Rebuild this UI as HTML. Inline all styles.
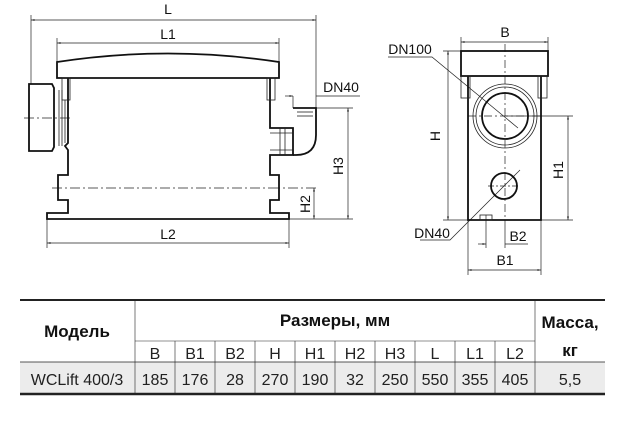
<!DOCTYPE html>
<html><head><meta charset="utf-8"><style>
body{margin:0;background:#fff;}
svg{display:block}
text{font-family:"Liberation Sans",sans-serif;}
</style></head><body>
<svg width="640" height="426" viewBox="0 0 640 426" xmlns="http://www.w3.org/2000/svg">
<defs>
<marker id="a" viewBox="0 0 10 10" refX="10" refY="5" markerWidth="7" markerHeight="5" orient="auto-start-reverse"><path d="M0,2 L10,5 L0,8z" fill="#333"/></marker>
</defs>
<g fill="none" stroke="#222" stroke-width="0.7">
<line x1="31" y1="20" x2="316" y2="20" marker-start="url(#a)" marker-end="url(#a)"/>
<line x1="31" y1="15" x2="31" y2="84"/><line x1="316" y1="15" x2="316" y2="110"/>
<line x1="57" y1="43" x2="279" y2="43" marker-start="url(#a)" marker-end="url(#a)"/>
<line x1="57" y1="38" x2="57" y2="62"/><line x1="279" y1="38" x2="279" y2="62"/>
<line x1="47" y1="243" x2="289" y2="243" marker-start="url(#a)" marker-end="url(#a)"/>
<line x1="47" y1="215" x2="47" y2="248"/><line x1="289" y1="215" x2="289" y2="248"/>
<line x1="285" y1="96" x2="293" y2="96" marker-end="url(#a)"/><line x1="316" y1="96" x2="360" y2="96"/>
<line x1="293" y1="96" x2="293" y2="108"/>
<line x1="316" y1="108" x2="353" y2="108"/>
<line x1="348" y1="108" x2="348" y2="219" marker-start="url(#a)" marker-end="url(#a)"/>
<line x1="289" y1="219" x2="353" y2="219"/>
<line x1="314" y1="188" x2="314" y2="219" marker-start="url(#a)" marker-end="url(#a)"/>
<line x1="270" y1="188" x2="318" y2="188" stroke-dasharray="10,3,2,3"/>
<line x1="52" y1="188" x2="270" y2="188" stroke-dasharray="10,3,2,3"/>
<line x1="24" y1="118" x2="72" y2="118" stroke-dasharray="10,3,2,3"/>
<line x1="461" y1="42" x2="548" y2="42" marker-start="url(#a)" marker-end="url(#a)"/>
<line x1="461" y1="37" x2="461" y2="51"/><line x1="548" y1="37" x2="548" y2="51"/>
<line x1="448" y1="51" x2="448" y2="220" marker-start="url(#a)" marker-end="url(#a)"/>
<line x1="443" y1="51" x2="461" y2="51"/><line x1="443" y1="220" x2="468" y2="220"/>
<line x1="568" y1="116" x2="568" y2="220" marker-start="url(#a)" marker-end="url(#a)"/>
<line x1="505" y1="116" x2="573" y2="116"/><line x1="541" y1="220" x2="573" y2="220"/>
<line x1="468" y1="270" x2="541" y2="270" marker-start="url(#a)" marker-end="url(#a)"/>
<line x1="468" y1="220" x2="468" y2="275"/><line x1="541" y1="220" x2="541" y2="275"/>
<line x1="478" y1="244" x2="486" y2="244" marker-end="url(#a)"/><line x1="505" y1="244" x2="528" y2="244"/>
<line x1="486" y1="215" x2="486" y2="248"/><line x1="505" y1="220" x2="505" y2="248"/>
<line x1="505" y1="44" x2="505" y2="220" stroke-dasharray="8,3,2,3"/>
<line x1="468" y1="116" x2="541" y2="116" stroke-dasharray="8,3,2,3"/>
<line x1="488" y1="186" x2="520" y2="186" stroke-dasharray="6,2,2,2"/>
<polyline points="388,57 432,57 518,128"/>
<polyline points="420,240 450,240 520,170"/>
</g>
<g fill="none" stroke="#111" stroke-width="1.8">
<path d="M57,62 Q168,45 279,62 L279,78 L57,78 Z"/>
<path d="M68,78 L68,143 L65,146 L68,150 L68,175 L58,175 L58,200 L68,200 L68,213 L47,213 L47,219 L289,219 L289,213 L270,213 L270,200 L279,200 L279,175 L270,175 L270,155 L293,155 L293,128 L270,128 L270,78"/>
<path d="M29,84 L52,84 L54,88 L54,147 L52,151 L29,151 Z"/>
<path d="M293,108 L316,108 L316,135 Q316,155 296,155 L293,155"/>
</g>
<g fill="none" stroke="#222" stroke-width="0.8">
<rect x="62" y="78" width="8" height="22"/><rect x="267" y="78" width="8" height="22"/>
<line x1="59" y1="90" x2="59" y2="146"/><line x1="62" y1="90" x2="62" y2="146"/><line x1="65" y1="100" x2="65" y2="143"/>
<line x1="270" y1="133" x2="293" y2="133"/><line x1="270" y1="150" x2="293" y2="150"/>
<line x1="280" y1="128" x2="280" y2="155"/><line x1="285" y1="128" x2="285" y2="155"/>
<line x1="297" y1="112" x2="313" y2="112"/><line x1="297" y1="116" x2="313" y2="116"/>
</g>
<g fill="none" stroke="#111" stroke-width="1.8">
<rect x="461" y="51" width="87" height="25"/>
<path d="M468,76 L468,220 L541,220 L541,76"/>
<circle cx="505" cy="116" r="23"/>
<circle cx="504" cy="186" r="13"/>
</g>
<g fill="none" stroke="#222" stroke-width="0.8">
<rect x="461" y="76" width="9" height="22"/><rect x="538" y="76" width="9" height="22"/>
<circle cx="505" cy="116" r="32"/><circle cx="505" cy="116" r="29"/>
<rect x="480" y="215" width="12" height="5"/>
</g>
<g font-size="14" fill="#111">
<text x="168" y="14" text-anchor="middle">L</text>
<text x="168" y="39" text-anchor="middle">L1</text>
<text x="168" y="239" text-anchor="middle">L2</text>
<text x="341" y="92" text-anchor="middle">DN40</text>
<text x="505" y="37" text-anchor="middle">B</text>
<text x="410" y="54" text-anchor="middle">DN100</text>
<text x="432" y="238" text-anchor="middle">DN40</text>
<text x="518" y="241" text-anchor="middle">B2</text>
<text x="505" y="265" text-anchor="middle">B1</text>
<text transform="translate(440,136) rotate(-90)" text-anchor="middle">H</text>
<text transform="translate(563,170) rotate(-90)" text-anchor="middle">H1</text>
<text transform="translate(343,166) rotate(-90)" text-anchor="middle">H3</text>
<text transform="translate(310,204) rotate(-90)" text-anchor="middle">H2</text>
</g>
<rect x="20" y="362" width="585" height="32" fill="#ececec"/>
<g stroke="#222">
<line x1="20" y1="300" x2="605" y2="300" stroke-width="2"/>
<line x1="20" y1="394" x2="605" y2="394" stroke-width="2.5"/>
<line x1="20" y1="362" x2="605" y2="362" stroke-width="0.8"/>
<line x1="135" y1="341" x2="535" y2="341" stroke-width="0.6"/>
<g stroke-width="0.6">
<line x1="135" y1="300" x2="135" y2="394"/><line x1="535" y1="300" x2="535" y2="394"/>
<line x1="175" y1="341" x2="175" y2="394"/><line x1="215" y1="341" x2="215" y2="394"/>
<line x1="255" y1="341" x2="255" y2="394"/><line x1="295" y1="341" x2="295" y2="394"/>
<line x1="335" y1="341" x2="335" y2="394"/><line x1="375" y1="341" x2="375" y2="394"/>
<line x1="415" y1="341" x2="415" y2="394"/><line x1="455" y1="341" x2="455" y2="394"/>
<line x1="495" y1="341" x2="495" y2="394"/>
</g></g>
<g font-size="17" font-weight="bold" fill="#111" text-anchor="middle">
<text x="77" y="337">Модель</text>
<text x="335" y="326">Размеры, мм</text>
<text x="570" y="328">Масса,</text>
<text x="570" y="356">кг</text>
</g>
<g font-size="16" fill="#222" text-anchor="middle">
<text x="155" y="359">B</text><text x="195" y="359">B1</text><text x="235" y="359">B2</text>
<text x="275" y="359">H</text><text x="315" y="359">H1</text><text x="355" y="359">H2</text>
<text x="395" y="359">H3</text><text x="435" y="359">L</text><text x="475" y="359">L1</text>
<text x="515" y="359">L2</text>
<text x="77" y="385">WCLift 400/3</text>
<text x="155" y="385">185</text><text x="195" y="385">176</text><text x="235" y="385">28</text>
<text x="275" y="385">270</text><text x="315" y="385">190</text><text x="355" y="385">32</text>
<text x="395" y="385">250</text><text x="435" y="385">550</text><text x="475" y="385">355</text>
<text x="515" y="385">405</text><text x="570" y="385">5,5</text>
</g>
</svg>
</body></html>
